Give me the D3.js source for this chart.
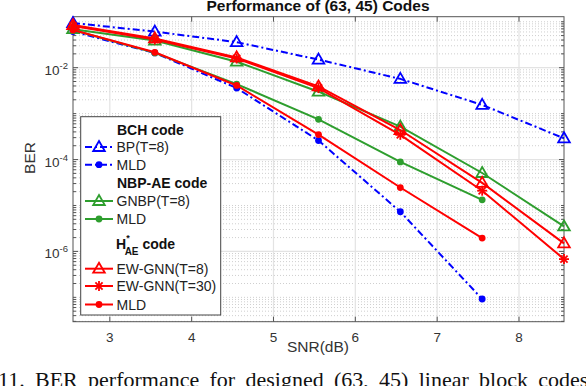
<!DOCTYPE html>
<meta charset="utf-8">
<html>
  <head>
    <!-- Load d3.js -->
    <script src="https://d3js.org/d3.v7.min.js"></script>
    <style>
      body { margin: 0; background: #fff; }
      text { font-family: "Liberation Sans", Arial, sans-serif; }
    </style>
  </head>
  <body>
    <svg id="viz" width="586" height="386"></svg>
    <script>
    // SNR points (dB)
    const snr = [2.55, 3.55, 4.55, 5.55, 6.55, 7.55, 8.55];

    // BER values
    const bchBP    = [9.4e-2, 6.1e-2, 3.6e-2, 1.5e-2, 5.7e-3, 1.55e-3, 2.9e-4];
    const bchMLD   = [6.1e-2, 2.1e-2, 3.6e-3, 2.6e-4, 7.3e-6, 9.2e-8];
    const gnbp     = [6.9e-2, 3.9e-2, 1.35e-2, 3.0e-3, 5.2e-4, 5.1e-5, 3.5e-6];
    const nbpMLD   = [6.6e-2, 2.1e-2, 4.4e-3, 7.5e-4, 8.9e-5, 1.33e-5];
    const ewgnn8   = [8.5e-2, 4.35e-2, 1.68e-2, 3.9e-3, 4.4e-4, 3.1e-5, 1.5e-6];
    const ewgnn30  = [8.1e-2, 4.1e-2, 1.58e-2, 3.6e-3, 3.45e-4, 2.1e-5, 6.8e-7];
    const aeMLD    = [6.6e-2, 2.16e-2, 4.1e-3, 3.5e-4, 2.46e-5, 1.95e-6];

    const xTicks = [3, 4, 5, 6, 7, 8];
    const yLabelExp = [-2, -4, -6];

    const blue = "#0000ff", green = "#2e9e2e", red = "#ff0000";

    const series = [
        {name: "BP(T=8)", y: bchBP, color: blue, dash: "7,3,2,3", marker: "tri"},
        {name: "MLD", y: bchMLD, color: blue, dash: "7,3,2,3", marker: "dot"},
        {name: "GNBP(T=8)", y: gnbp, color: green, dash: null, marker: "tri"},
        {name: "MLD", y: nbpMLD, color: green, dash: null, marker: "dot"},
        {name: "EW-GNN(T=8)", y: ewgnn8, color: red, dash: null, marker: "tri"},
        {name: "EW-GNN(T=30)", y: ewgnn30, color: red, dash: null, marker: "star"},
        {name: "MLD", y: aeMLD, color: red, dash: null, marker: "dot"}
    ];

    var pLeft = 73, pRight = 564, pTop = 16.7, pBottom = 321.7;

    var svg = d3.select("#viz");

    var x = d3.scaleLinear().domain([2.55, 8.55]).range([pLeft, pRight]);
    var y = d3.scaleLog().domain([Math.pow(10, -7.53), Math.pow(10, -0.89)]).range([pBottom, pTop]);

    // grid
    var grid = svg.append("g");
    var ymin = y.domain()[0], ymax = y.domain()[1];
    var yTicks = [];
    for (var k = -8; k <= 0; k++) {
        for (var m = 1; m <= 9; m++) {
            var v = m * Math.pow(10, k);
            if (v >= ymin && v <= ymax) yTicks.push({v: v, major: (m == 1 && k % 2 == 0)});
        }
    }
    grid.selectAll(".minor").data(yTicks.filter(d => !d.major)).enter().append("line")
        .attr("x1", pLeft).attr("x2", pRight)
        .attr("y1", d => y(d.v)).attr("y2", d => y(d.v))
        .attr("stroke", "#cfcfcf").attr("stroke-width", 1)
        .attr("stroke-dasharray", "1,2");
    grid.selectAll(".major").data(yTicks.filter(d => d.major)).enter().append("line")
        .attr("x1", pLeft).attr("x2", pRight)
        .attr("y1", d => y(d.v)).attr("y2", d => y(d.v))
        .attr("stroke", "#e3e3e3").attr("stroke-width", 1.2);
    grid.selectAll(".vgrid").data(xTicks).enter().append("line")
        .attr("x1", d => x(d)).attr("x2", d => x(d))
        .attr("y1", pTop).attr("y2", pBottom)
        .attr("stroke", "#e3e3e3").attr("stroke-width", 1.2);

    // axis box + ticks (inward, both sides)
    var ax = svg.append("g").attr("stroke", "#555").attr("stroke-width", 1);
    ax.append("rect").attr("x", pLeft).attr("y", pTop).attr("width", pRight - pLeft).attr("height", pBottom - pTop)
        .attr("fill", "none");
    xTicks.forEach(function(t) {
        ax.append("line").attr("x1", x(t)).attr("x2", x(t)).attr("y1", pBottom).attr("y2", pBottom - 5);
        ax.append("line").attr("x1", x(t)).attr("x2", x(t)).attr("y1", pTop).attr("y2", pTop + 5);
    });
    yTicks.forEach(function(d) {
        var len = d.major ? 5 : 3;
        ax.append("line").attr("x1", pLeft).attr("x2", pLeft + len).attr("y1", y(d.v)).attr("y2", y(d.v));
        ax.append("line").attr("x1", pRight).attr("x2", pRight - len).attr("y1", y(d.v)).attr("y2", y(d.v));
    });

    // tick labels
    svg.selectAll(".xlab").data(xTicks).enter().append("text")
        .attr("x", d => x(d)).attr("y", 341.5)
        .attr("text-anchor", "middle").attr("font-size", 13.5).attr("fill", "#333")
        .text(d => d);
    yLabelExp.forEach(function(e) {
        var t = svg.append("text").attr("x", 68).attr("y", y(Math.pow(10, e)) + 7)
            .attr("text-anchor", "end").attr("font-size", 13.5).attr("fill", "#333");
        t.append("tspan").text("10");
        t.append("tspan").attr("dy", -6).attr("font-size", 9.5).text("-" + Math.abs(e));
    });

    // axis labels + title
    svg.append("text").attr("x", 318).attr("y", 352).attr("text-anchor", "middle")
        .attr("font-size", 15.5).attr("fill", "#333").text("SNR(dB)");
    svg.append("text").attr("transform", "translate(35,158) rotate(-90)").attr("text-anchor", "middle")
        .attr("font-size", 15.5).attr("fill", "#333").text("BER");
    svg.append("text").attr("x", 318).attr("y", 10.5).attr("text-anchor", "middle")
        .attr("font-size", 15.5).attr("font-weight", "bold").attr("fill", "#111")
        .text("Performance of (63, 45) Codes");

    // marker drawing helper
    function drawMarker(g, mk, cx, cy, color) {
        if (mk == "tri") {
            g.append("path").attr("d", "M" + cx + "," + (cy - 6) + "L" + (cx + 5.8) + "," + (cy + 4) + "L" + (cx - 5.8) + "," + (cy + 4) + "Z")
                .attr("fill", "none").attr("stroke", color).attr("stroke-width", 1.8);
        } else if (mk == "dot") {
            g.append("circle").attr("cx", cx).attr("cy", cy).attr("r", 3.4).attr("fill", color);
        } else {
            var r = 5;
            [[0, r], [r, 0], [0.72 * r, 0.72 * r], [0.72 * r, -0.72 * r]].forEach(function(p) {
                g.append("line").attr("x1", cx - p[0]).attr("y1", cy - p[1]).attr("x2", cx + p[0]).attr("y2", cy + p[1])
                    .attr("stroke", color).attr("stroke-width", 1.8);
            });
        }
    }

    // curves
    var line = d3.line().x(d => x(d[0])).y(d => y(d[1]));
    series.forEach(function(s) {
        var pts = s.y.map((v, i) => [snr[i], v]);
        var g = svg.append("g");
        g.append("path").attr("d", line(pts)).attr("fill", "none")
            .attr("stroke", s.color).attr("stroke-width", 2)
            .attr("stroke-dasharray", s.dash);
        pts.forEach(p => drawMarker(g, s.marker, x(p[0]), y(p[1]), s.color));
    });

    // legend
    var lg = svg.append("g");
    lg.append("rect").attr("x", 80.7).attr("y", 116.7).attr("width", 140).attr("height", 198.3)
        .attr("fill", "#fff").attr("stroke", "#444").attr("stroke-width", 1);
    var headers = [{t: "BCH code", y: 135}, {t: "NBP-AE code", y: 188}];
    headers.forEach(function(h) {
        lg.append("text").attr("x", 117).attr("y", h.y).attr("font-size", 14)
            .attr("font-weight", "bold").attr("fill", "#111").text(h.t);
    });
    var hae = lg.append("text").attr("x", 116).attr("y", 249).attr("font-size", 14)
        .attr("font-weight", "bold").attr("fill", "#111");
    hae.append("tspan").text("H");
    hae.append("tspan").attr("dy", -8).attr("font-size", 9).text("*");
    hae.append("tspan").attr("dx", -5).attr("dy", 14).attr("font-size", 10).text("AE");
    hae.append("tspan").attr("dy", -6).text(" code");

    var rowsY = [147, 164.7, 201, 219, 268.7, 286, 304.5];
    series.forEach(function(s, i) {
        var ry = rowsY[i];
        var g = lg.append("g");
        g.append("line").attr("x1", 85).attr("x2", 113).attr("y1", ry).attr("y2", ry)
            .attr("stroke", s.color).attr("stroke-width", 2).attr("stroke-dasharray", s.dash);
        drawMarker(g, s.marker, 99, ry, s.color);
        g.append("text").attr("x", 116.5).attr("y", ry + 5).attr("font-size", 14).attr("fill", "#222").text(s.name);
    });

    // caption (cut at the bottom of the image)
    svg.append("text").attr("x", -2).attr("y", 387)
        .style("font-family", "'Liberation Serif', 'Times New Roman', serif")
        .attr("font-size", 22).attr("word-spacing", 4.8).attr("fill", "#111")
        .text("11. BER performance for designed (63, 45) linear block codes");
    </script>
  </body>
</html>
